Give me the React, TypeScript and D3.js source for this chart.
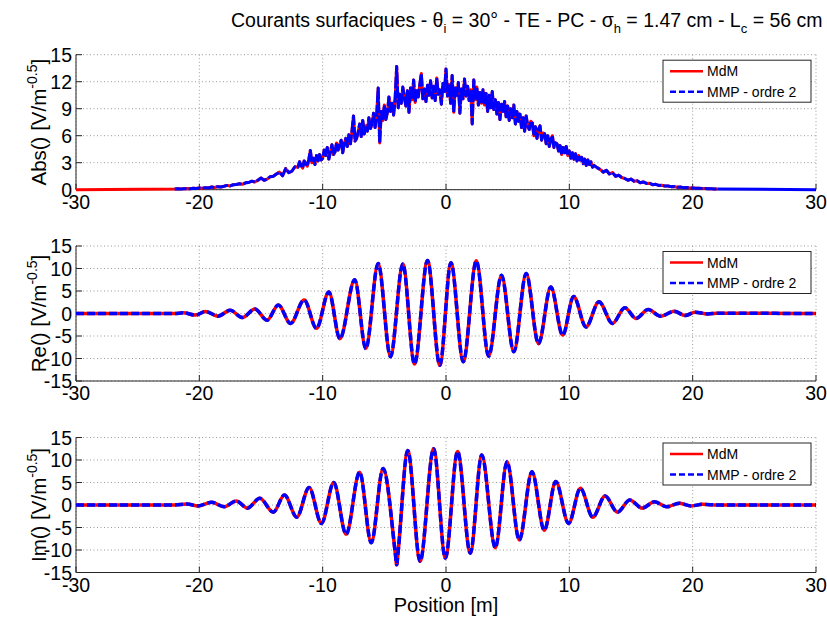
import React from 'react';
import * as d3 from 'd3';

// ---------- data ----------
const xTicks = [-30, -20, -10, 0, 10, 20, 30];
const absTicks = [0, 3, 6, 9, 12, 15];
const reImTicks = [-15, -10, -5, 0, 5, 10, 15];

// |J|: left tail (-22 .. -12.25, every 0.25 m)
const absLeftValues = [
  0.08, 0.1, 0.07, 0.11,   0.12, 0.1, 0.15, 0.13,   0.2, 0.16, 0.23, 0.19,   0.3, 0.25, 0.34, 0.3,
  0.38, 0.48, 0.42, 0.55,  0.58, 0.66, 0.6, 0.76,   0.8, 0.95, 0.86, 1.05,   1.3, 1.05, 1.18, 1.45,
  1.5, 1.75, 1.95, 1.55,   2.35, 1.9, 2.05, 2.55,
];
// core (-12 .. 12, every 0.125 m)
const absCoreValues = [
  2.5, 3.1, 2.7, 2.4, 3.2, 2.9, 2.6, 3.35,
  4.35, 3.0, 3.5, 2.8, 3.8, 3.2, 3.9, 3.3,
  3.5, 4.4, 3.8, 4.7, 3.4, 4.2, 5.0, 3.9,
  4.2, 5.2, 4.4, 5.0, 5.5, 4.1, 5.1, 5.7,
  4.8, 6.1, 5.1, 6.5, 8.2, 5.4, 5.7, 6.4,
  7.3, 5.9, 7.7, 6.2, 7.1, 6.5, 8.0, 6.8,
  7.3, 8.5, 6.9, 8.2, 11.3, 5.2, 8.7, 7.7,
  9.4, 7.8, 8.6, 10.3, 8.7, 9.6, 8.3, 10.1,
  13.7, 9.1, 10.6, 9.6, 11.4, 10.2, 9.3, 11.0,
  8.6, 11.3, 10.0, 12.2, 9.7, 11.0, 10.3, 11.7,
  12.9, 10.1, 11.2, 9.8, 11.6, 10.5, 12.1, 10.2,
  11.5, 9.9, 12.4, 10.6, 11.1, 9.5, 11.8, 10.9,
  13.4, 10.4, 11.7, 9.6, 12.7, 8.6, 11.3, 10.5,
  11.9, 8.5, 11.2, 10.1, 12.3, 10.4, 11.5, 9.9,
  11.1, 7.3, 12.2, 10.0, 11.4, 9.4, 10.8, 9.6,
  11.1, 9.4, 10.7, 8.7, 10.5, 9.1, 10.9, 8.9,
  10.0, 8.4, 9.7, 7.8, 9.5, 8.7, 9.8, 8.1,
  9.3, 7.7, 9.0, 8.0, 9.4, 7.3, 8.7, 7.6,
  8.4, 6.9, 8.0, 6.5, 8.2, 7.1, 6.7, 7.6,
  7.4, 6.0, 7.0, 5.7, 6.7, 7.1, 5.5, 6.3,
  6.2, 5.1, 6.0, 4.8, 5.6, 6.0, 4.7, 5.2,
  5.1, 4.3, 4.9, 3.9, 4.7, 4.1, 4.8, 3.8,
  4.3, 3.5, 4.1, 3.4, 4.0, 3.2, 3.8, 3.3,
  3.6, 2.9, 3.4, 2.7, 3.3, 2.8, 3.1, 2.5,
  2.7,
];
// right tail (12.25 .. 22, every 0.25 m)
const absRightValues = [
  2.45, 2.25, 1.95,        2.15, 1.75, 1.9, 1.5,    1.6, 1.35, 1.25, 1.05,   1.18, 0.95, 1.0, 0.78,
  0.86, 0.7, 0.72, 0.56,   0.6, 0.48, 0.5, 0.4,     0.42, 0.34, 0.35, 0.28,  0.29, 0.23, 0.24, 0.19,
  0.2, 0.15, 0.16, 0.13,   0.13, 0.1, 0.11, 0.09,   0.08,
];

// Re(J): positions and values of the extrema
const reX = [-30, -22, -21.3, -20.3, -19.5, -18.5, -17.5, -16.5, -15.5, -14.5, -13.6, -12.6, -11.5, -10.5,
  -9.5, -8.6, -7.4, -6.5, -5.5, -4.5, -3.5, -2.55, -1.5, -0.5, 0.4, 1.4, 2.46, 3.46, 4.5, 5.5, 6.5,
  7.5, 8.5, 9.46, 10.35, 11.35, 12.4, 13.5, 14.5, 15.4, 16.4, 17.4, 18.5, 19.4, 20.2, 21.2, 22, 30];
const reY = [0, 0, 0.15, -0.35, 0.45, -0.6, 0.7, -0.9, 1.0, -1.5, 1.9, -2.2, 3.0, -3.3,
  4.8, -5.6, 7.5, -7.8, 11.1, -9.6, 11.0, -11.2, 11.8, -11.5, 11.3, -10.7, 11.7, -9.5, 8.5, -8.5, 8.9,
  -6.7, 5.9, -4.8, 3.8, -3.0, 2.6, -2.2, 1.3, -1.1, 0.9, -0.6, 0.5, -0.45, 0.3, -0.1, 0.05, 0];

// Im(J): positions and values of the extrema
const imX = [-30, -22, -21, -20.1, -19.0, -18.0, -17.0, -16.1, -15.1, -14.0, -13.1, -12.1, -11.1, -10.1,
  -9.1, -8.1, -7.0, -6.06, -5.1, -4.1, -4.0, -3.9, -3.1, -2.1, -1.0, -0.05, 0.94, 1.97, 2.9, 4.0, 4.95,
  5.94, 6.97, 7.97, 8.9, 9.94, 10.9, 11.9, 12.9, 13.9, 14.9, 15.9, 16.9, 17.9, 18.9, 19.9, 20.8, 22, 30];
const imY = [0, 0, 0.2, -0.2, 0.6, -0.4, 0.9, -0.7, 1.5, -1.6, 2.2, -2.7, 3.9, -4.1,
  5.0, -6.5, 7.3, -8.4, 8.1, -11.0, -13.3, -10.9, 12.1, -12.5, 12.5, -11.8, 11.9, -10.7, 11.1, -9.5, 9.6,
  -7.8, 7.4, -5.6, 5.2, -4.1, 3.7, -2.7, 2.0, -1.6, 1.1, -0.7, 0.7, -0.4, 0.4, -0.2, 0.15, 0, 0];

const seriesNames = ['MdM', 'MMP - ordre 2'];

// ---------- layout ----------
const W = 827;
const H = 624;
const X0 = 76;
const X1 = 816;
const PANEL_H = 135;
const panelTops = [54.7, 246, 437.5];
const FONT = "'Liberation Sans', Arial, Helvetica, sans-serif";
const RED = '#ff0000';
const BLUE = '#0000ff';
const TICK_FS = 19.5;

type Pt = [number, number];

const xScale = d3.scaleLinear().domain([-30, 30]).range([X0, X1]);

function Panel({ top, domain, ticks, label, red, blue, blueTail, lw, smooth, dash }: {
  top: number; domain: [number, number]; ticks: number[]; label: string;
  red: Pt[]; blue: Pt[]; blueTail?: Pt[]; lw: number; smooth: boolean; dash: string;
}) {
  const y = d3.scaleLinear().domain(domain).range([top + PANEL_H, top]);
  const line = d3.line<Pt>().x(d => xScale(d[0])).y(d => y(d[1]))
    .curve(smooth ? d3.curveMonotoneX : d3.curveLinear);
  const bottom = top + PANEL_H;
  const cy = top + PANEL_H / 2;
  return (
    <g>
      {/* grid */}
      {xTicks.map(t => (
        <line key={'gx' + t} x1={xScale(t)} x2={xScale(t)} y1={top} y2={bottom}
          stroke="#9a9a9a" strokeWidth={1} strokeDasharray="1,2.5" />
      ))}
      {ticks.map(t => (
        <line key={'gy' + t} x1={X0} x2={X1} y1={y(t)} y2={y(t)}
          stroke="#9a9a9a" strokeWidth={1} strokeDasharray="1,2.5" />
      ))}
      {/* axes */}
      <line x1={X0} x2={X1} y1={bottom} y2={bottom} stroke="#262626" strokeWidth={1} />
      <line x1={X0} x2={X0} y1={top} y2={bottom} stroke="#262626" strokeWidth={1} />
      {xTicks.map(t => (
        <g key={'tx' + t}>
          <line x1={xScale(t)} x2={xScale(t)} y1={bottom} y2={bottom - 6} stroke="#262626" />
          <text x={xScale(t)} y={bottom + 19} textAnchor="middle" fontSize={TICK_FS} fontFamily={FONT} fill="#000">
            {t}
          </text>
        </g>
      ))}
      {ticks.map(t => (
        <g key={'ty' + t}>
          <line x1={X0} x2={X0 + 6} y1={y(t)} y2={y(t)} stroke="#262626" />
          <text x={X0 - 4} y={y(t) + 7} textAnchor="end" fontSize={TICK_FS} fontFamily={FONT} fill="#000">
            {t}
          </text>
        </g>
      ))}
      {/* data */}
      <path d={line(red) || ''} fill="none" stroke={RED} strokeWidth={lw} strokeLinejoin="round" />
      <path d={line(blue) || ''} fill="none" stroke={BLUE} strokeWidth={lw} strokeDasharray={dash}
        strokeLinejoin="round" />
      {blueTail && (
        <path d={line(blueTail) || ''} fill="none" stroke={BLUE} strokeWidth={lw} />
      )}
      {/* legend */}
      <rect x={663} y={top + 5.5} width={148} height={42} fill="#fff" stroke="#262626" strokeWidth={1} />
      <line x1={670} x2={703} y1={top + 16.5} y2={top + 16.5} stroke={RED} strokeWidth={2.5} />
      <line x1={670} x2={703} y1={top + 37} y2={top + 37} stroke={BLUE} strokeWidth={2.5} strokeDasharray="6,3" />
      <text x={707} y={top + 21.5} fontSize={14} fontFamily={FONT} fill="#000">{seriesNames[0]}</text>
      <text x={707} y={top + 42} fontSize={14} fontFamily={FONT} fill="#000">{seriesNames[1]}</text>
      {/* y label */}
      <text transform={`translate(${46},${cy}) rotate(-90)`} textAnchor="middle" fontSize={20.5}
        fontFamily={FONT} fill="#000">
        {label} [V/m<tspan dy={-9} fontSize={14}>-0.5</tspan><tspan dy={9}>]</tspan>
      </text>
    </g>
  );
}

export default function App() {
  const absPts: Pt[] = [
    ...absLeftValues.map((v, i): Pt => [-22 + i * 0.25, v]),
    ...absCoreValues.map((v, i): Pt => [-12 + i * 0.125, v]),
    ...absRightValues.map((v, i): Pt => [12.25 + i * 0.25, v]),
  ];
  const absRed: Pt[] = [[-30, 0], ...absPts];
  const absBlue: Pt[] = absPts;
  const absBlueTail: Pt[] = [absPts[absPts.length - 1], [30, 0]];
  const re: Pt[] = reX.map((x, i) => [x, reY[i]]);
  const im: Pt[] = imX.map((x, i) => [x, imY[i]]);

  return (
    <svg width={W} height={H} style={{ display: 'block', position: 'absolute', left: 0, top: 0, background: '#fff' }}>
      <rect x={0} y={0} width={W} height={H} fill="#fff" />
      <text x={231} y={27} fontSize={19.5} fontFamily={FONT} fill="#000">
        Courants surfaciques - θ<tspan dy={6} fontSize={13}>i</tspan>
        <tspan dy={-6}> = 30° - TE - PC - σ</tspan><tspan dy={6} fontSize={13}>h</tspan>
        <tspan dy={-6}> = 1.47 cm - L</tspan><tspan dy={6} fontSize={13}>c</tspan>
        <tspan dy={-6}> = 56 cm</tspan>
      </text>
      <Panel top={panelTops[0]} domain={[0, 15]} ticks={absTicks} label="Abs()"
        red={absRed} blue={absBlue} blueTail={absBlueTail} lw={3} smooth={false} dash="12,2" />
      <Panel top={panelTops[1]} domain={[-15, 15]} ticks={reImTicks} label="Re()" red={re} blue={re}
        lw={3.5} smooth={true} dash="8,3" />
      <Panel top={panelTops[2]} domain={[-15, 15]} ticks={reImTicks} label="Im()" red={im} blue={im}
        lw={3.5} smooth={true} dash="8,3" />
      <text x={(X0 + X1) / 2} y={612} textAnchor="middle" fontSize={20} fontFamily={FONT} fill="#000">
        Position [m]
      </text>
    </svg>
  );
}
